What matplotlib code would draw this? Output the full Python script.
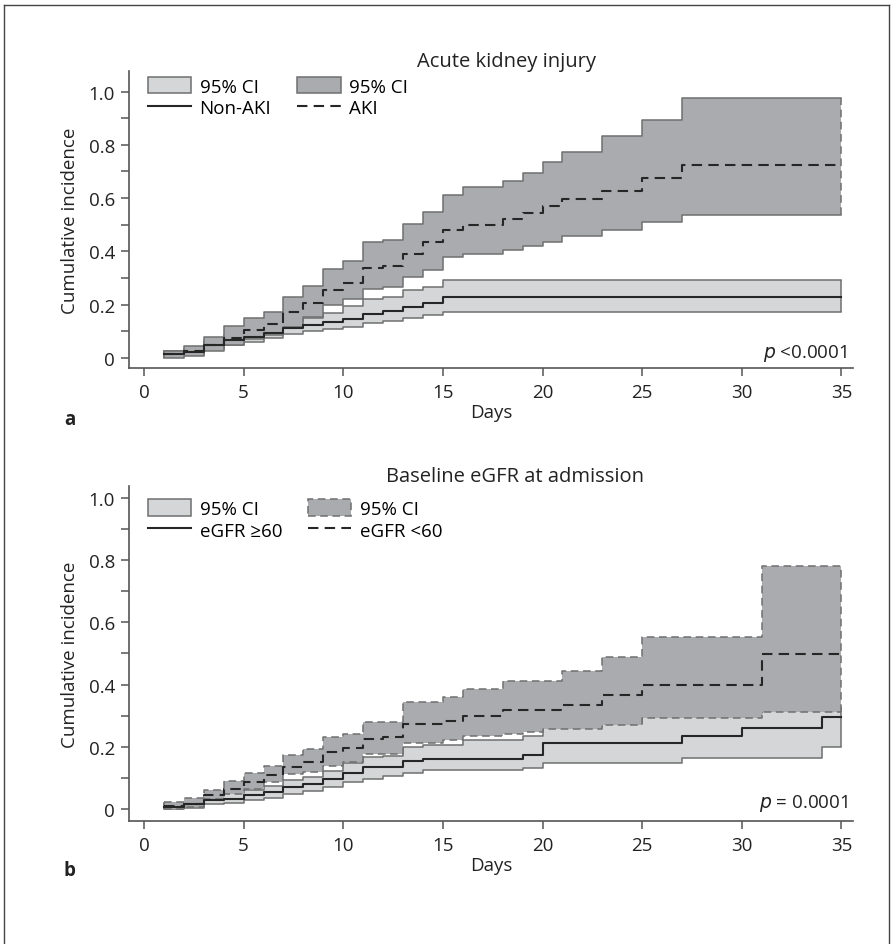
import numpy as np
import matplotlib
matplotlib.use("Agg")
import matplotlib.pyplot as plt
from matplotlib.patches import Patch
from matplotlib.lines import Line2D

plt.rcParams['font.family'] = ['Open Sans', 'DejaVu Sans']

# ---- panel a: acute kidney injury ----
nonaki_days = [1, 2, 3, 4, 5, 6, 7, 8, 9, 10, 11, 12, 13, 14, 15]
nonaki_est = [0.015, 0.022, 0.05, 0.067, 0.078, 0.094, 0.112, 0.124, 0.134, 0.148, 0.166, 0.175, 0.19, 0.207, 0.228]
nonaki_hi = [0.025, 0.035, 0.065, 0.085, 0.095, 0.112, 0.14, 0.152, 0.17, 0.195, 0.222, 0.228, 0.256, 0.265, 0.293]
nonaki_lo = [0.005, 0.012, 0.035, 0.05, 0.06, 0.075, 0.09, 0.1, 0.108, 0.118, 0.13, 0.14, 0.15, 0.16, 0.171]

aki_days = [1, 2, 3, 4, 5, 6, 7, 8, 9, 10, 11, 12, 13, 14, 15, 16, 18, 19, 20, 21, 23, 25, 27]
aki_est = [0.015, 0.025, 0.05, 0.074, 0.105, 0.128, 0.171, 0.206, 0.255, 0.281, 0.337, 0.346, 0.39, 0.434,
           0.481, 0.499, 0.522, 0.544, 0.572, 0.597, 0.628, 0.674, 0.724]
aki_hi = [0.025, 0.045, 0.078, 0.119, 0.149, 0.174, 0.23, 0.271, 0.334, 0.365, 0.434, 0.443, 0.503, 0.549,
          0.613, 0.64, 0.665, 0.693, 0.734, 0.774, 0.834, 0.894, 0.976]
aki_lo = [0.0, 0.009, 0.027, 0.05, 0.07, 0.085, 0.115, 0.155, 0.2, 0.222, 0.258, 0.268, 0.303, 0.33,
          0.378, 0.39, 0.405, 0.421, 0.436, 0.459, 0.481, 0.509, 0.537]

# ---- panel b: baseline eGFR ----
hi_egfr_days = [1, 2, 3, 4, 5, 6, 7, 8, 9, 10, 11, 12, 13, 14, 16, 19, 20, 23, 25, 27, 30, 31, 34]
hi_egfr_est = [0.007, 0.014, 0.027, 0.033, 0.043, 0.054, 0.07, 0.08, 0.096, 0.116, 0.136, 0.136, 0.155, 0.161,
               0.161, 0.174, 0.211, 0.211, 0.211, 0.234, 0.259, 0.259, 0.295]
hi_egfr_hi = [0.015, 0.022, 0.042, 0.05, 0.062, 0.075, 0.092, 0.104, 0.122, 0.147, 0.167, 0.17, 0.2, 0.207,
              0.222, 0.235, 0.262, 0.275, 0.295, 0.3, 0.31, 0.32, 0.325]
hi_egfr_lo = [0.0, 0.004, 0.014, 0.02, 0.027, 0.036, 0.048, 0.057, 0.07, 0.085, 0.097, 0.107, 0.115, 0.125,
              0.125, 0.13, 0.148, 0.148, 0.148, 0.163, 0.163, 0.163, 0.198]

lo_egfr_days = [1, 2, 3, 4, 5, 6, 7, 8, 9, 10, 11, 12, 13, 15, 16, 18, 19, 20, 21, 23, 25, 31]
lo_egfr_est = [0.01, 0.015, 0.045, 0.065, 0.085, 0.11, 0.135, 0.152, 0.182, 0.195, 0.225, 0.23, 0.273, 0.284,
               0.299, 0.317, 0.317, 0.317, 0.335, 0.365, 0.40, 0.497]
lo_egfr_hi = [0.021, 0.035, 0.062, 0.091, 0.115, 0.139, 0.174, 0.193, 0.23, 0.241, 0.279, 0.279, 0.345, 0.361,
              0.385, 0.41, 0.41, 0.41, 0.444, 0.487, 0.552, 0.782]
lo_egfr_lo = [0.0, 0.005, 0.032, 0.048, 0.064, 0.086, 0.113, 0.118, 0.139, 0.15, 0.177, 0.177, 0.212, 0.22,
              0.234, 0.241, 0.246, 0.257, 0.257, 0.27, 0.292, 0.313]

LIGHT = '#d5d6d8'
DARK = '#aaabae'
EDGE = '#6f6f6f'
LINE = '#262626'
DASH = (0, (5, 3))
FS = 13.5


def hold(days, vals, grid):
    # value in force on each grid day (step function, post)
    idx = np.searchsorted(days, grid, side='right') - 1
    return np.asarray(vals)[idx]


def draw_panel(ax, grid, light, dark, dark_edge_ls, labels, title, pval, title_x, leg_y):
    l_est, l_hi, l_lo = [hold(light[0], v, grid) for v in light[1:]]
    d_est, d_hi, d_lo = [hold(dark[0], v, grid) for v in dark[1:]]

    ax.fill_between(grid, l_lo, l_hi, step='post', color=LIGHT, lw=0, zorder=1)
    ax.step(grid, l_hi, where='post', color=EDGE, lw=1.1, zorder=2)
    ax.step(grid, l_lo, where='post', color=EDGE, lw=1.1, zorder=2)
    ax.vlines([grid[0], grid[-1]], l_lo[[0, -1]], l_hi[[0, -1]], color=EDGE, lw=1.1, zorder=2)

    ax.fill_between(grid, d_lo, d_hi, step='post', color=DARK, lw=0, zorder=3)
    ax.step(grid, d_hi, where='post', color=EDGE, lw=1.1, ls=dark_edge_ls, zorder=4)
    ax.step(grid, d_lo, where='post', color=EDGE, lw=1.1, ls=dark_edge_ls, zorder=4)
    ax.vlines([grid[0]], d_lo[0], d_hi[0], color=EDGE, lw=1.1, ls=dark_edge_ls, zorder=4)
    ax.vlines([grid[-1]], d_lo[-1], d_hi[-1], color=EDGE, lw=1.1, ls=DASH, zorder=4)

    ax.step(grid, l_est, where='post', color=LINE, lw=1.5, zorder=5)
    ax.step(grid, d_est, where='post', color=LINE, lw=1.5, ls=DASH, zorder=5)

    handles = [Patch(facecolor=LIGHT, edgecolor=EDGE, lw=1.1),
               Line2D([], [], color=LINE, lw=1.5),
               Patch(facecolor=DARK, edgecolor=EDGE, lw=1.1, ls=dark_edge_ls),
               Line2D([], [], color=LINE, lw=1.5, ls=DASH)]
    ax.legend(handles, ['95% CI', labels[0], '95% CI', labels[1]], ncol=2, loc='upper left',
              bbox_to_anchor=(0.008, leg_y), frameon=False, fontsize=FS, handlelength=2.3,
              handleheight=1.0, labelspacing=0.15, columnspacing=1.4, handletextpad=0.45,
              borderaxespad=0.3)

    ax.set_xlim(-0.75, 35.57)
    ax.set_xticks(range(0, 36, 5))
    ax.set_yticks(np.arange(0, 1.01, 0.2))
    ax.set_yticks(np.arange(0.1, 1.0, 0.2), minor=True)
    ax.set_yticklabels(['0', '0.2', '0.4', '0.6', '0.8', '1.0'])
    for s in ['top', 'right']:
        ax.spines[s].set_visible(False)
    for s in ['left', 'bottom']:
        ax.spines[s].set_color('#555555')
        ax.spines[s].set_linewidth(1.2)
    ax.tick_params(axis='both', which='both', length=6, width=1.1, color='#555555',
                   labelsize=FS, labelcolor='#222222')
    ax.tick_params(axis='y', pad=4)
    ax.tick_params(axis='x', pad=5)
    ax.set_xlabel('Days', fontsize=FS, color='#222222', labelpad=1)
    ax.set_ylabel('Cumulative incidence', fontsize=FS, color='#222222', labelpad=7)
    ax.text(title_x, 1.0, title, transform=ax.get_xaxis_transform(), ha='center', va='bottom',
            fontsize=14.5, color='#222222')
    ax.text(35.3, 0.02, pval, ha='right', va='center', fontsize=FS, color='#222222')


fig = plt.figure(figsize=(8.93, 9.45), dpi=100)
ax1 = fig.add_axes([0.1445, 0.6095, 0.8105, 0.3143])
ax2 = fig.add_axes([0.1445, 0.1302, 0.8105, 0.3545])

grid = np.arange(1, 36)
draw_panel(ax1, grid,
           (nonaki_days, nonaki_est, nonaki_hi, nonaki_lo),
           (aki_days, aki_est, aki_hi, aki_lo),
           '-', ['Non-AKI', 'AKI'], 'Acute kidney injury', '$\\it{p}$ <0.0001', 18.2, 1.025)
ax1.set_ylim(-0.0375, 1.077)
ax1.text(-0.09, -0.172, 'a', transform=ax1.transAxes, fontsize=13.5, fontweight='bold',
         color='#222222', ha='left', va='center')

draw_panel(ax2, grid,
           (hi_egfr_days, hi_egfr_est, hi_egfr_hi, hi_egfr_lo),
           (lo_egfr_days, lo_egfr_est, lo_egfr_hi, lo_egfr_lo),
           DASH, ['eGFR ≥60', 'eGFR <60'], 'Baseline eGFR at admission', '$\\it{p}$ = 0.0001', 18.6, 1.0)
ax2.set_ylim(-0.039, 1.039)
ax2.text(-0.09, -0.146, 'b', transform=ax2.transAxes, fontsize=13.5, fontweight='bold',
         color='#222222', ha='left', va='center')

# outer frame of the figure page
for xs, ys in [([0.005, 0.005], [0.0, 0.994]), ([0.005, 0.995], [0.994, 0.994]), ([0.995, 0.995], [0.0, 0.994])]:
    fig.add_artist(Line2D(xs, ys, color='#444444', lw=1.0, transform=fig.transFigure))

fig.savefig('out.png', dpi=100)
